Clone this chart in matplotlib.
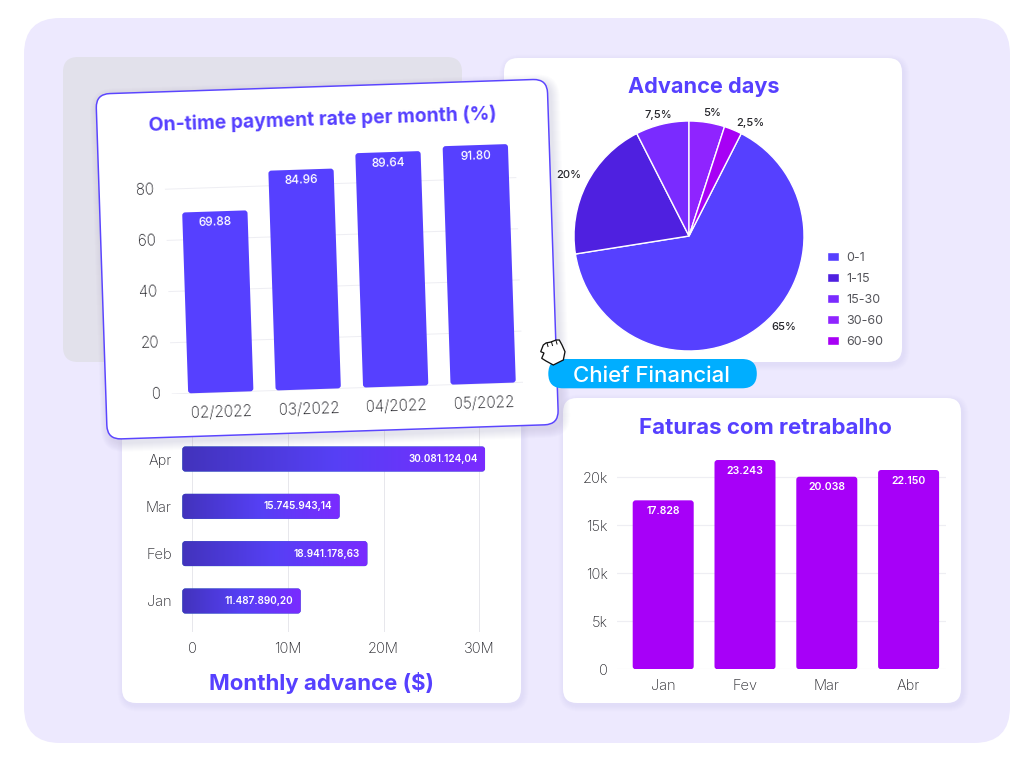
import matplotlib
matplotlib.use("Agg")
import numpy as np
import matplotlib.pyplot as plt
from matplotlib.patches import FancyBboxPatch, Patch, Polygon
from matplotlib.transforms import Affine2D
from matplotlib.colors import LinearSegmentedColormap
from mpl_toolkits.axisartist.floating_axes import FloatingAxes, GridHelperCurveLinear
from mpl_toolkits.axisartist.grid_finder import FixedLocator, DictFormatter

# ---------- data ----------
ontime_months = ["02/2022", "03/2022", "04/2022", "05/2022"]
ontime_bar_heights = [70.7, 85.9, 91.6, 93.2]
ontime_labels = ["69.88", "84.96", "89.64", "91.80"]
ontime_ticks = [0, 20, 40, 60, 80]

days_labels = ["0-1", "1-15", "15-30", "30-60", "60-90"]
days_values = [65, 20, 7.5, 5, 2.5]
days_colors = ["#5640FF", "#4F20E0", "#7A2BFF", "#8F24FF", "#A700F5"]

advance_months = ["Jan", "Feb", "Mar", "Apr"]
advance_bar_ends = [11.33, 18.30, 15.40, 30.60]
advance_labels = ["11.487.890,20", "18.941.178,63", "15.745.943,14", "30.081.124,04"]
advance_ticks = [0, 10, 20, 30]
advance_ticklabels = ["0", "10M", "20M", "30M"]

fat_months = ["Jan", "Fev", "Mar", "Abr"]
fat_bar_heights = [17.6, 21.8, 20.06, 20.76]
fat_labels = ["17.828", "23.243", "20.038", "22.150"]
fat_ticks = [0, 5, 10, 15, 20]
fat_ticklabels = ["0", "5k", "10k", "15k", "20k"]

# ---------- style ----------
W, H = 1024, 760
FONT = "Inter"
plt.rcParams["font.family"] = [FONT, "DejaVu Sans"]
BLUE = "#5640FF"
PURPLE = "#A700F8"
TICK = "#222228"
GRID = "#EEEEF3"
px = 72 / 100  # points per pixel

fig = plt.figure(figsize=(W / 100, H / 100), dpi=100, facecolor="white")


def canvas(z):
    a = fig.add_axes([0, 0, 1, 1], zorder=z)
    a.set_xlim(0, W)
    a.set_ylim(H, 0)
    a.axis("off")
    a.patch.set_alpha(0)
    return a


def rect_px(x0, y0, x1, y1):
    return [x0 / W, 1 - y1 / H, (x1 - x0) / W, (y1 - y0) / H]


def rbox(a, x, y, w, h, r, fc, ec="none", lw=0, alpha=1, tf=None, z=1):
    p = FancyBboxPatch((x, y), w, h, boxstyle=f"round,pad=0,rounding_size={r}",
                       fc=fc, ec=ec, lw=lw, alpha=alpha, zorder=z)
    a.add_patch(p)
    if tf is not None:
        p.set_transform(tf)
    return p


def card(a, x, y, w, h, r=14, ec="none", lw=0, tf=None, dx=1.5, dy=2.5, spread=6, sa=0.008):
    base = tf
    for i in range(spread, 0, -1):
        rbox(a, x - i + dx, y - i + dy, w + 2 * i, h + 2 * i, r + i, "#3b3580",
             alpha=sa, tf=base, z=1)
    return rbox(a, x, y, w, h, r, "white", ec=ec, lw=lw, tf=base, z=2)


def round_bars(a, bars, rx, aspect, z=3):
    out = []
    for b in bars:
        p = FancyBboxPatch((b.get_x(), b.get_y()), b.get_width(), b.get_height(),
                           boxstyle=f"round,pad=0,rounding_size={rx}",
                           mutation_aspect=aspect, fc=b.get_facecolor(), ec="none",
                           zorder=z)
        a.add_patch(p)
        b.set_visible(False)
        out.append(p)
    return out


# ---------- background ----------
bg = canvas(0)
rbox(bg, 24, 18, 986, 725, 36, "#EDE9FE")
rbox(bg, 63, 57, 399, 305, 15, "#E2E1EB")
card(bg, 504, 58, 398, 304)
card(bg, 122, 400, 399, 303)
card(bg, 563, 398, 398, 305)
bg.text(703.5, 87, "Advance days", color=BLUE, fontsize=15.6, fontweight="bold", ha="center", va="center")
bg.text(321, 683, "Monthly advance ($)", color=BLUE, fontsize=16, fontweight="bold", ha="center", va="center")
bg.text(765.5, 428, "Faturas com retrabalho", color=BLUE, fontsize=16, fontweight="bold", ha="center", va="center")

# ---------- pie ----------
axp = fig.add_axes(rect_px(574, 121, 804, 351), zorder=1)
wedges, _ = axp.pie(days_values, colors=days_colors, startangle=63, counterclock=False,
                    radius=1, wedgeprops=dict(edgecolor="white", linewidth=1.0))
axp.set_xlim(-1, 1)
axp.set_ylim(-1, 1)
for w_ in wedges:
    w_.set_clip_on(False)
pie_label_xy = [(784, 327), (569, 175), (658, 115.5), (711.7, 113), (750, 122.5)]
for v, (lx, ly) in zip(days_values, pie_label_xy):
    bg.text(lx, ly, f"{v:g}%".replace(".", ","), fontsize=8, fontweight="medium",
            color="#26262b", ha="center", va="center", zorder=5)
leg = axp.legend(wedges, days_labels, loc="upper left", frameon=False,
                 bbox_to_anchor=(826.5 / W, 1 - 252 / H), bbox_transform=fig.transFigure,
                 fontsize=9, labelcolor="#55555b", handlelength=1.0, handleheight=0.75,
                 handletextpad=0.6, labelspacing=0.72, borderpad=0, borderaxespad=0)

# ---------- monthly advance (horizontal bars) ----------
axh_x0, axh_x1, axh_y0, axh_y1 = 180.0, 490.0, 425.0, 632.0
axh = fig.add_axes(rect_px(axh_x0, axh_y0, axh_x1, axh_y1), zorder=1)
axh.patch.set_alpha(0)
sx = 9.567   # px per million
sy = 47.33   # px per category
axh.set_xlim((axh_x0 - 192.3) / sx, (axh_x1 - 192.3) / sx)
axh.set_ylim((601 - axh_y1) / sy, (601 - axh_y0) / sy)
for s in axh.spines.values():
    s.set_visible(False)
axh.xaxis.grid(True, color="#E7E7EC", lw=1 * px, zorder=0)
axh.set_axisbelow(True)
bar_left = -1.04
ypos = np.arange(len(advance_months))
hb = axh.barh(ypos, np.array(advance_bar_ends) - bar_left, left=bar_left, height=25 / sy)
patches = round_bars(axh, hb, 3 / sx, (1 / sy) / (1 / sx))
cmap = LinearSegmentedColormap.from_list("g", ["#4233BC", "#5640F5", "#7A2BFF"])
grad = np.linspace(0, 1, 256).reshape(1, -1)
for p, end, lab, y in zip(patches, advance_bar_ends, advance_labels, ypos):
    im = axh.imshow(grad, extent=(bar_left, end, y - 0.27, y + 0.27), cmap=cmap, aspect="auto", zorder=3)
    im.set_clip_path(p)
    axh.annotate(lab, (end, y), xytext=(-7.5 * px, 0), textcoords="offset points", ha="right",
                 va="center", color="white", fontsize=7.2, fontweight="semibold", zorder=4)
axh.set_xlim((axh_x0 - 192.3) / sx, (axh_x1 - 192.3) / sx)
axh.set_ylim((601 - axh_y1) / sy, (601 - axh_y0) / sy)
axh.set_yticks(ypos, advance_months)
axh.set_xticks(advance_ticks, advance_ticklabels)
axh.tick_params(length=0, labelsize=10.5, labelcolor=TICK)
axh.tick_params(axis="y", pad=6)
axh.tick_params(axis="x", pad=7)
for t in axh.get_xticklabels() + axh.get_yticklabels():
    t.set_fontweight("light")

# ---------- faturas (columns) ----------
axc_x0, axc_x1, axc_y0, axc_y1 = 616.7, 945.7, 455.0, 669.3
axc = fig.add_axes(rect_px(axc_x0, axc_y0, axc_x1, axc_y1), zorder=1)
axc.patch.set_alpha(0)
cx_s = 81.8
cy_s = 9.6
for s in axc.spines.values():
    s.set_visible(False)
xpos = np.arange(len(fat_months))
axc.set_xlim((axc_x0 - 663.2) / cx_s, (axc_x1 - 663.2) / cx_s)
axc.set_ylim(0, (axc_y1 - axc_y0) / cy_s)
axc.yaxis.grid(True, color=GRID, lw=1.2 * px, zorder=0)
axc.set_axisbelow(True)
vb = axc.bar(xpos, fat_bar_heights, width=61 / cx_s, color=PURPLE)
round_bars(axc, vb, 3 / cx_s, cx_s / cy_s)
for x_, h_, lab in zip(xpos, fat_bar_heights, fat_labels):
    axc.annotate(lab, (x_, h_), xytext=(0, -10.5 * px), textcoords="offset points", ha="center",
                 va="center", color="white", fontsize=7.6, fontweight="semibold", zorder=4)
axc.set_xticks(xpos, fat_months)
axc.set_yticks(fat_ticks, fat_ticklabels)
axc.tick_params(length=0, labelsize=10.5, labelcolor=TICK)
axc.tick_params(axis="x", pad=7)
axc.tick_params(axis="y", pad=6.5)
for t in axc.get_xticklabels() + axc.get_yticklabels():
    t.set_fontweight("light")

# ---------- rotated card ----------
ANG = 1.9
card_cx, card_cy = 327.2, 259.2
card_w, card_h = 451.5, 345.5
top = canvas(2)
rot = Affine2D().rotate_deg_around(card_cx, card_cy, -ANG) + top.transData
card(top, card_cx - card_w / 2, card_cy - card_h / 2, card_w, card_h, r=14, ec="#5B45FF",
     lw=1.5 * px, tf=rot, dx=3, dy=4, spread=9, sa=0.012)
top.text(322.5, 119.5, "On-time payment rate per month (%)", color=BLUE, fontsize=13.9,
         fontweight="bold", ha="center", va="center", rotation=ANG, rotation_mode="anchor", zorder=5)

# floating rotated axes for the bar chart: data -> px scale, rotated by ANG
ux, uy = 87.5, 2.56
origin_x, origin_y = 220.8, 392.3
xext = (-0.561, 3.457)
yext = (0, 97.0)
tr = Affine2D().scale(ux, uy).rotate_deg(ANG)
corners = tr.transform([(xext[0], yext[0]), (xext[1], yext[0]), (xext[1], yext[1]), (xext[0], yext[1])])
bx0, by0 = corners.min(axis=0)
bx1, by1 = corners.max(axis=0)
helper = GridHelperCurveLinear(
    tr, extremes=(xext[0], xext[1], yext[0], yext[1]),
    grid_locator1=FixedLocator(list(range(len(ontime_months)))),
    tick_formatter1=DictFormatter(dict(enumerate(ontime_months))),
    grid_locator2=FixedLocator(ontime_ticks),
    tick_formatter2=DictFormatter({t: str(t) for t in ontime_ticks}),
)
axr = fig.add_axes([(origin_x + bx0) / W, (H - origin_y + by0) / H, (bx1 - bx0) / W, (by1 - by0) / H],
                   axes_class=FloatingAxes, grid_helper=helper, zorder=3)
axr.set_aspect("auto")
axr.set_xlim(bx0, bx1)
axr.set_ylim(by0, by1)
axr.patch.set_facecolor("none")
axr.patch.set_edgecolor("none")
for side in ("top", "right"):
    axr.axis[side].set_visible(False)
for side, pad in (("left", 8), ("bottom", 9)):
    ar = axr.axis[side]
    ar.line.set_visible(False)
    ar.major_ticks.set_visible(False)
    ar.minor_ticks.set_visible(False)
    ar.major_ticklabels.set_fontsize(11)
    ar.major_ticklabels.set_fontweight("light")
    ar.major_ticklabels.set_color(TICK)
    ar.major_ticklabels.set_pad(pad)
aux = axr.get_aux_axes(tr)
aux.hlines(ontime_ticks, xext[0], xext[1], color=GRID, lw=1 * px, zorder=1)
xr = np.arange(len(ontime_months))
rb = aux.bar(xr, ontime_bar_heights, width=65.3 / ux, color=BLUE)
round_bars(aux, rb, 3 / ux, ux / uy)
for x_, v, lab in zip(xr, ontime_bar_heights, ontime_labels):
    aux.text(x_, v - 11.3 / uy, lab, color="white", fontsize=8.5, fontweight="medium",
             ha="center", va="center", rotation=ANG, rotation_mode="anchor", zorder=5)

# ---------- pill + cursor ----------
over = canvas(4)
rbox(over, 548.3, 359, 208.5, 29.3, 14.6, "#00AEFF")
over.text(651.5, 376, "Chief Financial", color="white", fontsize=16, fontweight="medium",
          ha="center", va="center", zorder=5)
hand = [(543.3, 345), (546, 343), (551, 342), (556, 340), (559.3, 340), (562, 345),
        (565, 351.7), (563.3, 360), (553.3, 365), (546, 361), (541.7, 358.3), (544, 353), (540.7, 351.7)]
over.add_patch(Polygon(hand, closed=True, fc="white", ec="#111111", lw=1.3 * px, zorder=6))
for (fx, fy) in [(547, 343), (551.5, 342), (556, 340.5)]:
    over.plot([fx, fx + 1], [fy, fy + 3.5], color="#111111", lw=1 * px, zorder=7)

fig.savefig("out.png", dpi=100, facecolor="white")
